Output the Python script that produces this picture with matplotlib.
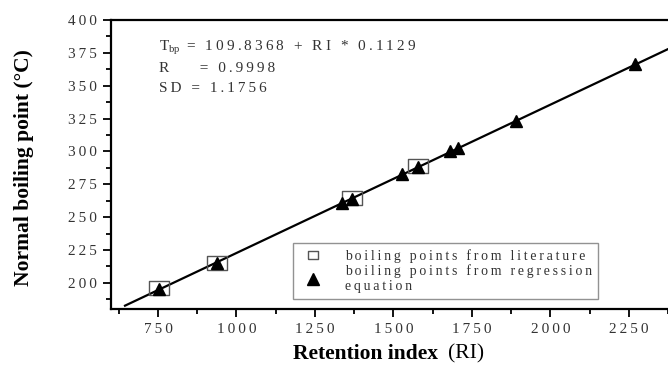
"""
Boiling point vs retention index — linear regression chart.
"""

import matplotlib
matplotlib.use("Agg")
import matplotlib.pyplot as plt
from matplotlib.ticker import MultipleLocator, FuncFormatter

# ─────────────────────────────────────────────
#  Data
# ─────────────────────────────────────────────
# literature values (open squares)
ri_lit = [753, 938, 1368, 1578]
bp_lit = [196.0, 215.0, 264.4, 288.6]

# values from the regression equation (filled triangles)
ri_reg = [753, 938, 1336, 1368, 1527, 1578, 1680, 1705, 1890, 2269]
bp_reg = [195.5, 215.5, 261.0, 264.0, 282.5, 288.2, 300.2, 302.5, 323.0, 366.5]

# fitted line  T_bp = 109.8368 + RI * 0.1129
intercept = 109.8368
slope = 0.1129
line_ri = [645, 2450]
line_bp = [intercept + slope * r for r in line_ri]

x_ticks = [750, 1000, 1250, 1500, 1750, 2000, 2250]
y_ticks = [200, 225, 250, 275, 300, 325, 350, 375, 400]

SERIF = ["Liberation Serif", "DejaVu Serif"]
GRIS = "#333333"
THIN = "\u2009"


def espacer(txt):
    """Adds a thin space between characters (letter-spaced look)."""
    return THIN.join(txt)


plt.rcParams["font.family"] = SERIF
plt.rcParams["mathtext.fontset"] = "custom"
plt.rcParams["mathtext.rm"] = "Liberation Serif"

fig = plt.figure(figsize=(6.68, 3.65), dpi=100)
ax = fig.add_axes([0.166, 0.153, 0.846, 0.792])

# ── regression line ─────────────────────────
ax.plot(line_ri, line_bp, color="black", lw=1.6, zorder=2)

# ── points ──────────────────────────────────
rect = [(-1, -0.72), (1, -0.72), (1, 0.72), (-1, 0.72), (-1, -0.72)]
ax.plot(ri_lit, bp_lit, linestyle="none", marker=rect, markersize=15,
        markerfacecolor="none", markeredgecolor="#555555",
        markeredgewidth=1.0, zorder=3,
        label=espacer("boiling points from literature"))
ax.plot(ri_reg, bp_reg, linestyle="none", marker="^", markersize=8.5,
        color="black", zorder=4,
        label=espacer("boiling points from regression") + "\n"
        + espacer("equation"))

# ── axes ────────────────────────────────────
ax.set_xlim(600, 2400)
ax.set_ylim(180, 400)
ax.set_xticks(x_ticks)
ax.set_yticks(y_ticks)
ax.xaxis.set_minor_locator(MultipleLocator(125))
ax.yaxis.set_minor_locator(MultipleLocator(12.5))
fmt = FuncFormatter(lambda v, p: espacer(f"{v:.0f}"))
ax.xaxis.set_major_formatter(fmt)
ax.yaxis.set_major_formatter(fmt)
ax.tick_params(which="major", direction="out", length=6, width=1.3,
               labelsize=11, labelcolor=GRIS, pad=4)
ax.tick_params(which="minor", direction="out", length=3.5, width=1.3)
ax.tick_params(top=False, right=False, which="both")
for s in ax.spines.values():
    s.set_linewidth(1.6)

# ── equation text ───────────────────────────
ax.text(0.085, 0.895, r"T$_{\mathrm{bp}}$" + espacer(" = 109.8368 + RI * 0.1129"),
        transform=ax.transAxes, fontsize=11, color=GRIS, va="baseline")
ax.text(0.085, 0.82, espacer("R    = 0.9998"), transform=ax.transAxes,
        fontsize=11, color=GRIS, va="baseline")
ax.text(0.085, 0.75, espacer("SD = 1.1756"), transform=ax.transAxes,
        fontsize=11, color=GRIS, va="baseline")

# ── legend ──────────────────────────────────
leg = ax.legend(loc="lower left", bbox_to_anchor=(0.322, 0.035),
                frameon=True, fancybox=False, borderaxespad=0,
                prop={"family": SERIF, "size": 10}, labelcolor=GRIS,
                handlelength=2.0, handletextpad=1.3, labelspacing=0.1,
                borderpad=0.45)
leg.get_frame().set_edgecolor("#777777")
leg.get_frame().set_linewidth(1.0)
# smaller square, larger triangle in the legend
leg.legend_handles[0].set_markersize(7.5)
leg.legend_handles[1].set_markersize(9)

# ── axis labels ─────────────────────────────
fig.text(0.036, 0.542, "Normal boiling point (°C)", rotation=90,
         ha="center", va="center", fontsize=15.5, fontweight="bold",
         family=SERIF)
fig.text(0.655, 0.030, "Retention index", ha="right", va="center",
         fontsize=15.5, fontweight="bold", family=SERIF)
fig.text(0.670, 0.030, "(RI)", ha="left", va="center", fontsize=15.5,
         family=SERIF)

fig.savefig("out.png", dpi=100)
